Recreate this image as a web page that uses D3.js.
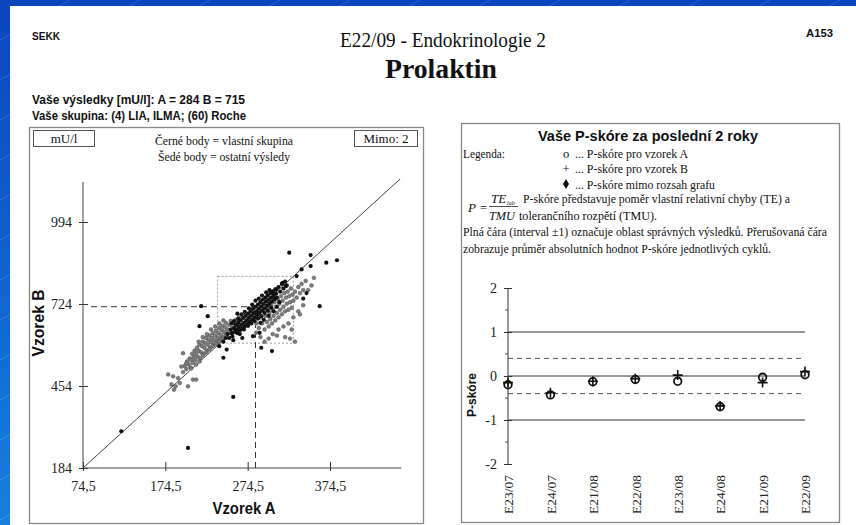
<!DOCTYPE html>
<html><head><meta charset="utf-8">
<script src="https://cdn.jsdelivr.net/npm/d3@7"></script>
<style>body{margin:0;background:#fff;} svg{display:block;}</style>
</head><body>
<svg id="c" width="856" height="525"></svg>
<script>
// ---------- DATA ----------
const resultA = 284, resultB = 715;
const scatterXTicks = [74.5, 174.5, 274.5, 374.5];
const scatterYTicks = [184, 454, 724, 994];
const targetBox = [[238, 595], [330, 815]];      // dotted window (A,B)
const identityLine = [[74.5, 184], [459.7, 1135.7]];
const ownGroup = [
 [250,625],[252,612],[254,640],[255,628],[256,618],[258,645],[259,632],[260,655],[261,640],[262,628],[263,662],[264,648],[265,637],[266,670],[267,655],[268,643],[269,678],[270,662],[271,650],[272,685],[273,670],[274,658],[275,692],[276,678],[277,665],[278,700],[279,686],[280,672],[281,708],[282,694],[283,680],[284,715],[285,700],[286,688],[287,722],[288,708],[289,695],[290,730],[291,716],[292,702],[293,738],[294,724],[295,710],[296,745],[297,732],[298,718],[299,752],[300,738],[301,725],[302,760],[303,745],[304,732],[305,766],[306,752],[307,740],[308,772],[309,758],[310,745],[312,780],[314,765],[316,790],[318,775],[320,798],[322,785],[263,675],[267,690],[271,698],[276,710],[280,722],[284,735],[288,742],[292,752],[297,762],[301,770],[270,640],[275,652],[279,660],[283,668],[287,676],[291,684],[295,694],[299,702],[303,712],[258,668],[262,692],[255,660],[248,612],[245,600],[257,605],[265,625],[268,612],[290,662],[294,672],[300,685],[306,700],[310,715],[313,730],
 [325,893],[351,885],[370,860],[383,868],[340,838],[351,849],[362,717],[342,742],[218,717],[226,684],[216,651],[257,418],[121,305],[202,250],[304,569],[291,580],[245,547],[317,794],[321,783],[334,816],[309,772],[305,761],[281,618],[289,629],[240,585],[249,574],[346,760]
];
const otherResults = [
 [196,500],[198,520],[200,510],[201,535],[203,525],[204,545],[205,515],[206,540],[207,560],[208,530],[209,550],[210,570],[211,540],[212,560],[213,580],[214,550],[215,570],[216,590],[217,545],[218,565],[219,585],[220,600],[221,560],[222,580],[223,595],[224,612],[225,570],[226,590],[227,605],[228,620],[229,580],[230,598],[231,612],[232,628],[233,590],[234,605],[235,620],[236,636],[237,598],[238,612],[239,628],[240,645],[241,608],[242,622],[243,638],[244,652],[245,615],[246,632],[247,648],[248,662],[250,640],[252,655],[254,668],[256,645],[258,660],[260,672],[262,655],[264,680],[212,525],[216,535],[220,555],[224,565],[228,575],[232,585],[236,592],[240,600],[244,610],[248,625],[252,635],[215,600],[220,615],[225,625],[230,640],[235,650],[240,660],[245,670],
 [178,492],[184,486],[182,459],[187,453],[185,442],[192,464],[202,453],[208,475],[212,475],[194,518],[196,562],[200,529],[206,512],[190,480],
 [285,660],[288,645],[290,680],[292,660],[294,700],[295,640],[296,685],[298,665],[299,710],[300,650],[301,695],[302,675],[303,720],[304,660],[305,705],[306,685],[307,730],[308,670],[309,715],[310,695],[311,740],[312,680],[313,725],[314,705],[315,750],[316,690],[317,735],[318,715],[319,760],[320,700],[321,745],[322,725],[323,765],[324,705],[325,750],[326,730],[327,775],[328,712],[329,755],[330,735],[332,765],[334,745],[336,780],[338,760],[340,790],[342,770],[305,625],[312,640],[318,650],[324,660],[330,680],[336,700],[300,610],[310,620],[320,615],[328,640],[295,600],[290,615],[285,630],
 [345,800],[352,785],[348,770],[355,810],[342,720],[338,690],[332,600],[326,610]
];
const cycles = ["E23/07","E24/07","E21/08","E22/08","E23/08","E24/08","E21/09","E22/09"];
const pScoreA = [-0.20, -0.43, -0.13, -0.08, -0.12, -0.70, -0.03, 0.03];
const pScoreB = [-0.15, -0.38, -0.12, -0.06, 0.02, -0.68, -0.15, 0.10];
const pTicks = [-2, -1, 0, 1, 2];
const pMinorTicks = [-1.5, -0.5, 0.5, 1.5];
const limitLines = [1, 0, -1];
const meanAbsLines = [0.40, -0.40];

// ---------- DRAW ----------
const svg = d3.select("#c");
const defs = svg.append("defs");
const gr = defs.append("linearGradient").attr("id","bg").attr("x1",0).attr("y1",0).attr("x2",0).attr("y2",1);
gr.append("stop").attr("offset","0%").attr("stop-color","#0a45bd");
gr.append("stop").attr("offset","100%").attr("stop-color","#1680dc");
const pat = defs.append("pattern").attr("id","diag").attr("width",70).attr("height",40).attr("patternUnits","userSpaceOnUse");
pat.append("line").attr("x1",0).attr("y1",40).attr("x2",70).attr("y2",0).attr("stroke","rgba(255,255,255,0.22)").attr("stroke-width",0.7);
svg.append("rect").attr("width",856).attr("height",525).attr("fill","url(#bg)");
svg.append("rect").attr("width",856).attr("height",525).attr("fill","url(#diag)");
svg.append("rect").attr("x",10).attr("y",6).attr("width",846).attr("height",519).attr("fill","#fff");

const SANS = "'Liberation Sans Narrow','Liberation Sans',Arial,sans-serif";
const SERIF = "'Liberation Serif','Times New Roman',serif";
function txt(g, s, x, y, o) {
  const t = g.append("text").attr("x", x).attr("y", y).text(s)
    .attr("font-family", o.ff || SERIF).attr("font-size", o.fs || 13)
    .attr("font-weight", o.fw || "normal").attr("fill", o.fill || "#111")
    .attr("text-anchor", o.anchor || "start");
  if (o.len) t.attr("textLength", o.len).attr("lengthAdjust", "spacingAndGlyphs");
  if (o.style) t.attr("font-style", o.style);
  return t;
}

// header
txt(svg, "SEKK", 32, 40, {ff: SANS, fs: 11, fw: "bold", len: 28});
txt(svg, "A153", 806, 37, {ff: SANS, fs: 11, fw: "bold", len: 27});
txt(svg, "E22/09 - Endokrinologie 2", 443, 47, {fs: 21, anchor: "middle", len: 206});
txt(svg, "Prolaktin", 441, 78, {fs: 28, fw: "bold", anchor: "middle", len: 112});
txt(svg, "Vaše výsledky [mU/l]: A = 284  B = 715", 32, 104, {ff: SANS, fs: 12, fw: "bold", len: 213});
txt(svg, "Vaše skupina: (4) LIA, ILMA; (60) Roche", 32, 120, {ff: SANS, fs: 12, fw: "bold", len: 214});

// ---------- left panel ----------
const L = svg.append("g");
L.append("rect").attr("x",29.5).attr("y",127.5).attr("width",394).attr("height",396)
  .attr("fill","none").attr("stroke","#888").attr("stroke-width",1.3);
L.append("rect").attr("x",33.5).attr("y",130.5).attr("width",61).attr("height",16).attr("fill","none").attr("stroke","#555");
txt(L, "mU/l", 64, 143, {fs: 13, anchor: "middle"});
L.append("rect").attr("x",354.5).attr("y",130.5).attr("width",63).attr("height",16).attr("fill","none").attr("stroke","#555");
txt(L, "Mimo: 2", 386, 143, {fs: 13, anchor: "middle"});
txt(L, "Černé body = vlastní skupina", 224, 145, {fs: 13, anchor: "middle", len: 138});
txt(L, "Šedé body = ostatní výsledy", 224, 161, {fs: 13, anchor: "middle", len: 132});

const x = d3.scaleLinear().domain([74.5, 374.5]).range([83, 330]);
const y = d3.scaleLinear().domain([184, 994]).range([468, 222]);

// axes
const fmt = d => String(d).replace(".", ",");
const xAx = L.append("g").attr("transform", `translate(0,${y(184)})`)
  .call(d3.axisBottom(x).tickValues(scatterXTicks).tickFormat(fmt).tickSize(3).tickPadding(10));
xAx.select(".domain").remove();
xAx.selectAll(".tick line").attr("y1", -6).attr("y2", 3).attr("stroke", "#333");
xAx.selectAll("text").attr("font-family", SERIF).attr("font-size", 14).attr("fill", "#222");
const yAx = L.append("g").attr("transform", `translate(${x(74.5)},0)`)
  .call(d3.axisLeft(y).tickValues(scatterYTicks).tickSize(4).tickPadding(7));
yAx.select(".domain").remove();
yAx.selectAll(".tick line").attr("x1", -4).attr("x2", 5).attr("stroke", "#333");
yAx.selectAll("text").attr("font-family", SERIF).attr("font-size", 14).attr("fill", "#222");
L.append("line").attr("x1", x(74.5)).attr("x2", x(74.5)).attr("y1", y(184)).attr("y2", y(1126)).attr("stroke", "#444");
L.append("line").attr("x1", x(74.5)).attr("x2", x(461)).attr("y1", y(184)).attr("y2", y(184)).attr("stroke", "#444");

// dotted window
L.append("rect").attr("x", x(targetBox[0][0])).attr("y", y(targetBox[1][1]))
  .attr("width", x(targetBox[1][0]) - x(targetBox[0][0])).attr("height", y(targetBox[0][1]) - y(targetBox[1][1]))
  .attr("fill","none").attr("stroke","#999").attr("stroke-dasharray","2,2");
// result lines
L.append("line").attr("x1", x(74.5) + 8).attr("x2", x(resultA)).attr("y1", y(resultB)).attr("y2", y(resultB))
  .attr("stroke","#333").attr("stroke-dasharray","6,4");
L.append("line").attr("x1", x(resultA)).attr("x2", x(resultA)).attr("y1", y(184)).attr("y2", y(resultB))
  .attr("stroke","#333").attr("stroke-dasharray","6,4");
// identity line
L.append("line").attr("x1", x(identityLine[0][0])).attr("y1", y(identityLine[0][1]))
  .attr("x2", x(identityLine[1][0])).attr("y2", y(identityLine[1][1])).attr("stroke","#444").attr("stroke-width",1);

L.append("g").selectAll("circle").data(otherResults).join("circle")
  .attr("cx", d => x(d[0])).attr("cy", d => y(d[1])).attr("r", 1.9)
  .attr("fill", "#7d7d7d").attr("stroke", "#4a4a4a").attr("stroke-width", 0.5);
L.append("g").selectAll("circle").data(ownGroup).join("circle")
  .attr("cx", d => x(d[0])).attr("cy", d => y(d[1])).attr("r", 2.1).attr("fill", "#111");

txt(L, "Vzorek A", 244, 514, {ff: SANS, fs: 17, fw: "bold", anchor: "middle", len: 63});
txt(L, "Vzorek B", 0, 0, {ff: SANS, fs: 17, fw: "bold", anchor: "middle", len: 67})
  .attr("transform", "translate(44,323) rotate(-90)");

// ---------- right panel ----------
const R = svg.append("g");
R.append("rect").attr("x",461.5).attr("y",123.5).attr("width",378).attr("height",399)
  .attr("fill","none").attr("stroke","#888").attr("stroke-width",1.3);
txt(R, "Vaše P-skóre za poslední 2 roky", 648, 141, {ff: "'Liberation Sans',Arial,sans-serif", fs: 14.5, fw: "bold", anchor: "middle", len: 220});
txt(R, "Legenda:", 463, 158, {fs: 12.5, len: 42});
txt(R, "o", 566, 158, {fs: 12.5, anchor: "middle"});
txt(R, "... P-skóre pro vzorek A", 575, 158, {fs: 12.5, len: 113});
txt(R, "+", 566, 173, {fs: 12.5, anchor: "middle"});
txt(R, "... P-skóre pro vzorek B", 575, 173, {fs: 12.5, len: 113});
R.append("path").attr("d", "M566,179 L569,184 L566,189 L563,184 Z").attr("fill", "#111");
txt(R, "... P-skóre mimo rozsah grafu", 575, 189, {fs: 12.5, len: 140});
// formula
txt(R, "P =", 468, 212, {fs: 13, style: "italic"});
txt(R, "TE", 491, 203, {fs: 13, style: "italic"});
txt(R, "lab", 507, 205, {fs: 6, style: "italic"});
R.append("line").attr("x1", 489).attr("x2", 518).attr("y1", 206.5).attr("y2", 206.5).attr("stroke", "#222").attr("stroke-width", 0.8);
txt(R, "TMU", 489, 220, {fs: 13, style: "italic", len: 26});
txt(R, "P-skóre představuje poměr vlastní relativní chyby (TE) a", 523, 203, {fs: 12.5, len: 267});
txt(R, "tolerančního rozpětí (TMU).", 519, 220, {fs: 12.5, len: 138});
txt(R, "Plná čára (interval ±1) označuje oblast správných výsledků. Přerušovaná čára", 463, 236, {fs: 12.5, len: 364});
txt(R, "zobrazuje průměr absolutních hodnot P-skóre jednotlivých cyklů.", 463, 253, {fs: 12.5, len: 308});

const px = d3.scalePoint().domain(cycles).range([508, 805]);
const py = d3.scaleLinear().domain([-2, 2]).range([464, 288]);

limitLines.forEach(v => R.append("line").attr("x1", 508).attr("x2", 805).attr("y1", py(v)).attr("y2", py(v))
  .attr("stroke", "#333").attr("stroke-width", 1));
meanAbsLines.forEach(v => R.append("line").attr("x1", 508).attr("x2", 805).attr("y1", py(v)).attr("y2", py(v))
  .attr("stroke", "#444").attr("stroke-width", 0.9).attr("stroke-dasharray", "5,4"));

const pyAx = R.append("g").attr("transform", "translate(508,0)")
  .call(d3.axisLeft(py).tickValues(pTicks).tickSize(4).tickPadding(7).tickFormat(d => String(d)));
pyAx.select(".domain").remove();
pyAx.selectAll(".tick line").attr("x1", -4).attr("x2", 4).attr("stroke", "#333");
pyAx.selectAll("text").attr("font-family", SERIF).attr("font-size", 14).attr("fill", "#222");
R.append("g").selectAll("line").data(pMinorTicks).join("line")
  .attr("x1", 505).attr("x2", 508).attr("y1", d => py(d)).attr("y2", d => py(d)).attr("stroke", "#555");
R.append("line").attr("x1", 508).attr("x2", 508).attr("y1", py(2)).attr("y2", py(-2)).attr("stroke", "#333");

const pxAx = R.append("g").attr("transform", `translate(0,${py(-2)})`)
  .call(d3.axisBottom(px).tickSize(0).tickPadding(0));
pxAx.select(".domain").remove();
pxAx.selectAll("text").attr("font-family", SERIF).attr("font-size", 13.5).attr("fill", "#222")
  .attr("text-anchor", "end").attr("dy", "0.35em")
  .attr("transform", "translate(0,11) rotate(-90)").attr("x", 0).attr("y", 0);

txt(R, "P-skóre", 0, 0, {ff: "'Liberation Sans',Arial,sans-serif", fs: 13, fw: "bold", anchor: "middle", len: 44})
  .attr("transform", "translate(476,395) rotate(-90)");

// markers
R.append("g").selectAll("path").data(cycles).join("path")
  .attr("d", (c, i) => { const cx = px(c), cy = py(pScoreB[i]); return `M${cx-5},${cy}H${cx+5}M${cx},${cy-5}V${cy+5}`; })
  .attr("stroke", "#111").attr("stroke-width", 1.6).attr("fill", "none");
R.append("g").selectAll("circle").data(cycles).join("circle")
  .attr("cx", c => px(c)).attr("cy", (c, i) => py(pScoreA[i])).attr("r", 3.8)
  .attr("fill", "none").attr("stroke", "#111").attr("stroke-width", 1.8);
</script></body></html>
